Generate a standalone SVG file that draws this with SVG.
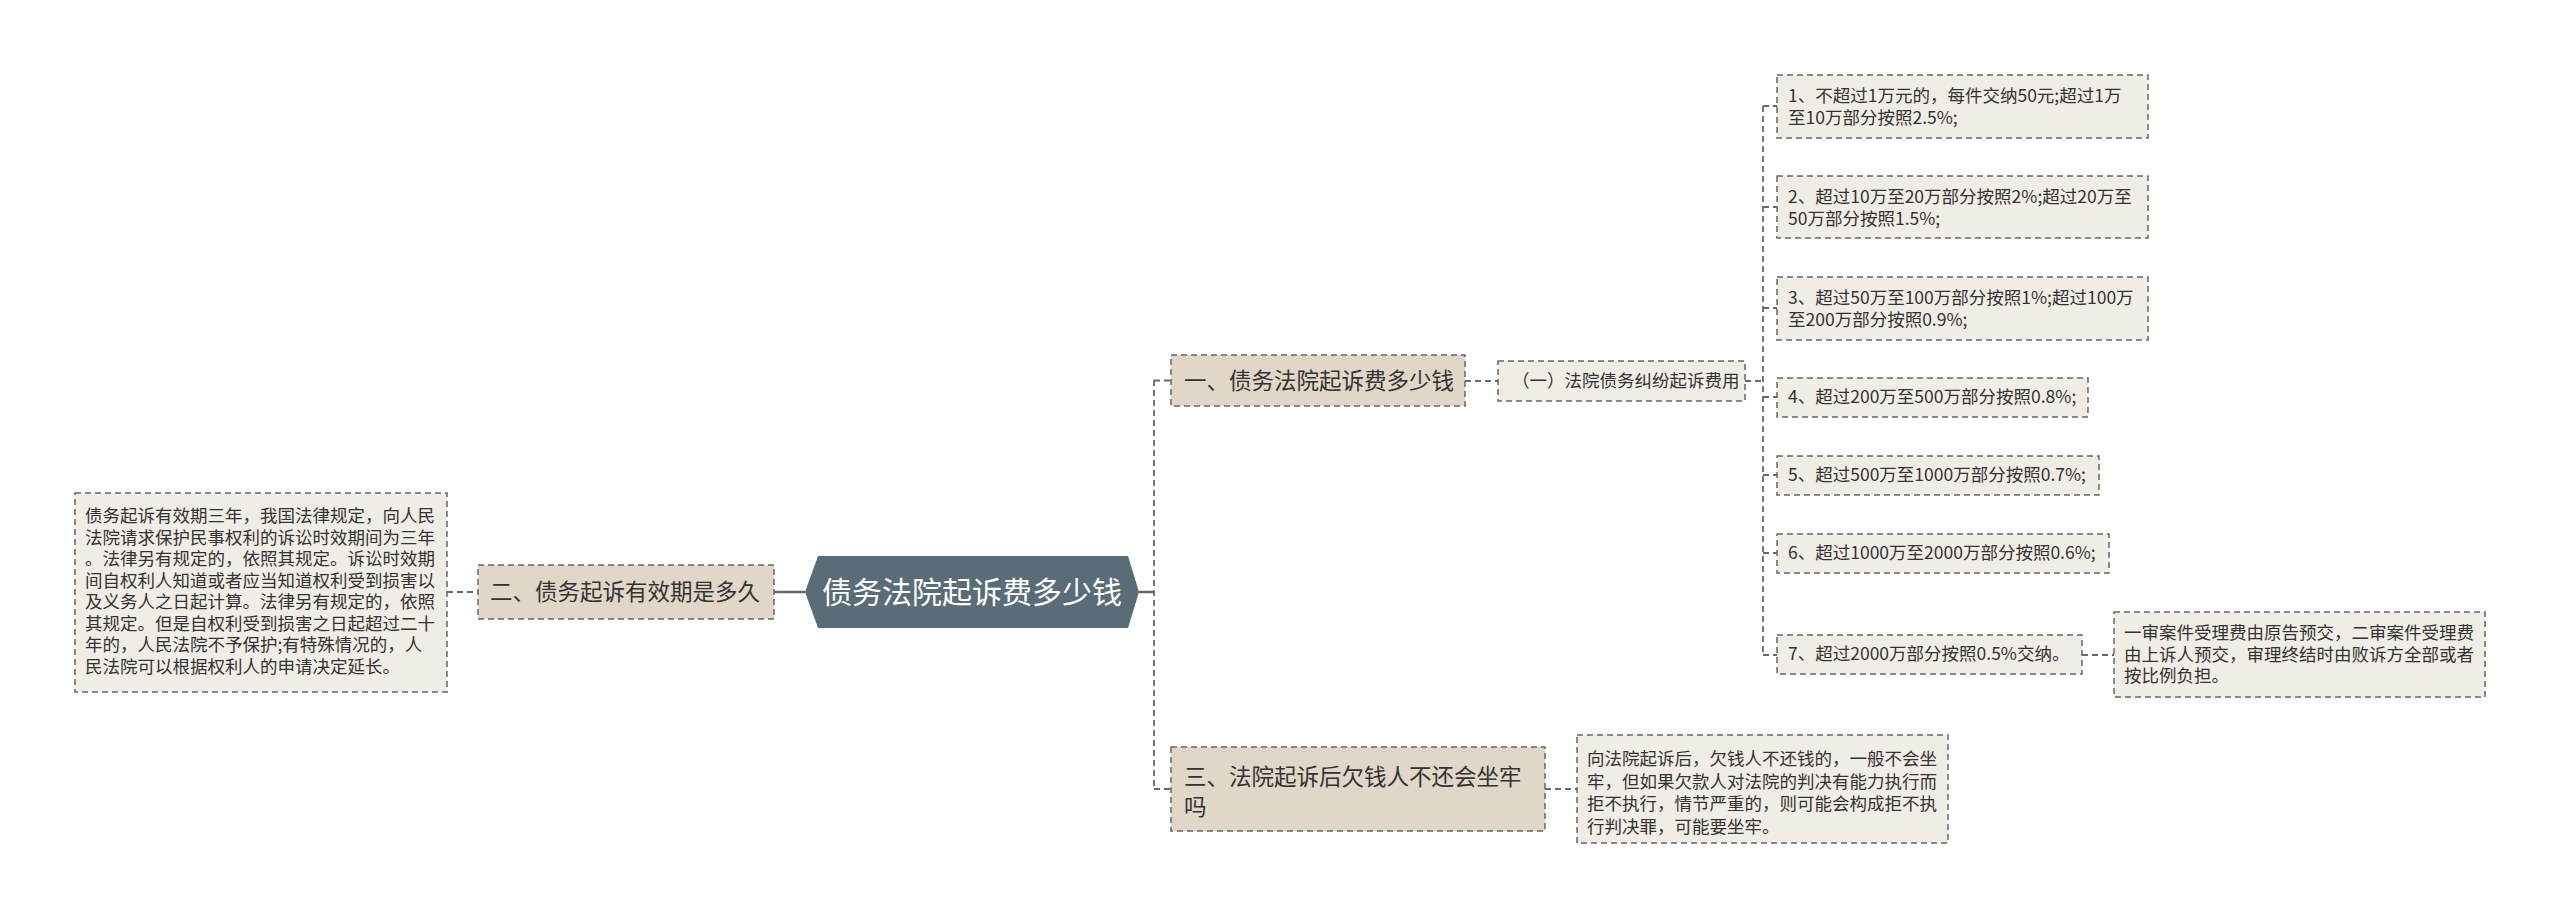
<svg xmlns="http://www.w3.org/2000/svg" width="2560" height="919" viewBox="0 0 2560 919">
<style>
text{font-family:"Noto Sans CJK SC","Microsoft YaHei",sans-serif;fill:#333}
.br{fill:#e0d7c8;stroke:#666;stroke-width:1.5;stroke-dasharray:6 4}
.lf{fill:#f0ede6;stroke:#666;stroke-width:1.5;stroke-dasharray:6 4}
.t22{font-size:22.5px}
.t17{font-size:17.5px}
.cn{fill:none;stroke:#5f6b74;stroke-width:1.8;stroke-dasharray:6 4}
.sl{fill:none;stroke:#5b6c79;stroke-width:2.5}
</style>
<rect width="2560" height="919" fill="#fff"/>
<g id="connectors">
<path class="sl" d="M774 592H805"/>
<path class="sl" d="M1139 592H1154"/>
<path class="cn" d="M447 592H478"/>
<path class="cn" d="M1154 380V789"/>
<path class="cn" d="M1154 380.5H1171"/>
<path class="cn" d="M1154 789H1171"/>
<path class="cn" d="M1465 381H1498"/>
<path class="cn" d="M1745 381H1763"/>
<path class="cn" d="M1763 106V655"/>
<path class="cn" d="M1763 106H1777M1763 207H1777M1763 308H1777M1763 397H1777M1763 475H1777M1763 553H1777M1763 655H1777"/>
<path class="cn" d="M2082 655H2114"/>
<path class="cn" d="M1545 789H1577"/>
</g>
<g id="center">
<polygon points="805,592 818,556 1128,556 1139,592 1128,628 818,628" fill="#5b6c79"/>
<text x="972" y="603" text-anchor="middle" style="font-size:30px;fill:#fff">债务法院起诉费多少钱</text>
</g>
<g id="branch-left">
<rect class="br" x="478" y="565" width="296" height="54"/>
<text class="t22" x="490" y="600">二、债务起诉有效期是多久</text>
</g>
<g id="leaf-left">
<rect class="lf" x="75" y="493" width="372" height="199"/>
<text class="t17" x="85" y="522">债务起诉有效期三年，我国法律规定，向人民</text>
<text class="t17" x="85" y="543.5">法院请求保护民事权利的诉讼时效期间为三年</text>
<text class="t17" x="85" y="565">。法律另有规定的，依照其规定。诉讼时效期</text>
<text class="t17" x="85" y="586.5">间自权利人知道或者应当知道权利受到损害以</text>
<text class="t17" x="85" y="608">及义务人之日起计算。法律另有规定的，依照</text>
<text class="t17" x="85" y="629.5">其规定。但是自权利受到损害之日起超过二十</text>
<text class="t17" x="85" y="651">年的，人民法院不予保护;有特殊情况的，人</text>
<text class="t17" x="85" y="672.5">民法院可以根据权利人的申请决定延长。</text>
</g>
<g id="branch-1">
<rect class="br" x="1171" y="355" width="294" height="51"/>
<text class="t22" x="1184" y="389">一、债务法院起诉费多少钱</text>
</g>
<g id="sub-1">
<rect class="lf" x="1498" y="361" width="247" height="40"/>
<text class="t17" x="1512" y="387">（一）法院债务纠纷起诉费用</text>
</g>
<g id="leaf-1">
<rect class="lf" x="1777" y="75" width="371" height="63"/>
<text class="t17" x="1788" y="102">1、不超过1万元的，每件交纳50元;超过1万</text>
<text class="t17" x="1788" y="124">至10万部分按照2.5%;</text>
</g>
<g id="leaf-2">
<rect class="lf" x="1777" y="176" width="371" height="62"/>
<text class="t17" x="1788" y="203">2、超过10万至20万部分按照2%;超过20万至</text>
<text class="t17" x="1788" y="225">50万部分按照1.5%;</text>
</g>
<g id="leaf-3">
<rect class="lf" x="1777" y="277" width="371" height="63"/>
<text class="t17" x="1788" y="304">3、超过50万至100万部分按照1%;超过100万</text>
<text class="t17" x="1788" y="326">至200万部分按照0.9%;</text>
</g>
<g id="leaf-4">
<rect class="lf" x="1777" y="378" width="311" height="39"/>
<text class="t17" x="1788" y="403">4、超过200万至500万部分按照0.8%;</text>
</g>
<g id="leaf-5">
<rect class="lf" x="1777" y="456" width="322" height="39"/>
<text class="t17" x="1788" y="481">5、超过500万至1000万部分按照0.7%;</text>
</g>
<g id="leaf-6">
<rect class="lf" x="1777" y="534" width="332" height="39"/>
<text class="t17" x="1788" y="559">6、超过1000万至2000万部分按照0.6%;</text>
</g>
<g id="leaf-7">
<rect class="lf" x="1777" y="635" width="305" height="39"/>
<text class="t17" x="1788" y="660">7、超过2000万部分按照0.5%交纳。</text>
</g>
<g id="leaf-7-note">
<rect class="lf" x="2114" y="612" width="371" height="85"/>
<text class="t17" x="2124" y="639">一审案件受理费由原告预交，二审案件受理费</text>
<text class="t17" x="2124" y="660.5">由上诉人预交，审理终结时由败诉方全部或者</text>
<text class="t17" x="2124" y="682">按比例负担。</text>
</g>
<g id="branch-3">
<rect class="br" x="1171" y="747" width="374" height="84"/>
<text class="t22" x="1184" y="785">三、法院起诉后欠钱人不还会坐牢</text>
<text class="t22" x="1184" y="815">吗</text>
</g>
<g id="leaf-3-note">
<rect class="lf" x="1577" y="735" width="371" height="108"/>
<text class="t17" x="1587" y="765">向法院起诉后，欠钱人不还钱的，一般不会坐</text>
<text class="t17" x="1587" y="787.5">牢，但如果欠款人对法院的判决有能力执行而</text>
<text class="t17" x="1587" y="810">拒不执行，情节严重的，则可能会构成拒不执</text>
<text class="t17" x="1587" y="832.5">行判决罪，可能要坐牢。</text>
</g>
</svg>
